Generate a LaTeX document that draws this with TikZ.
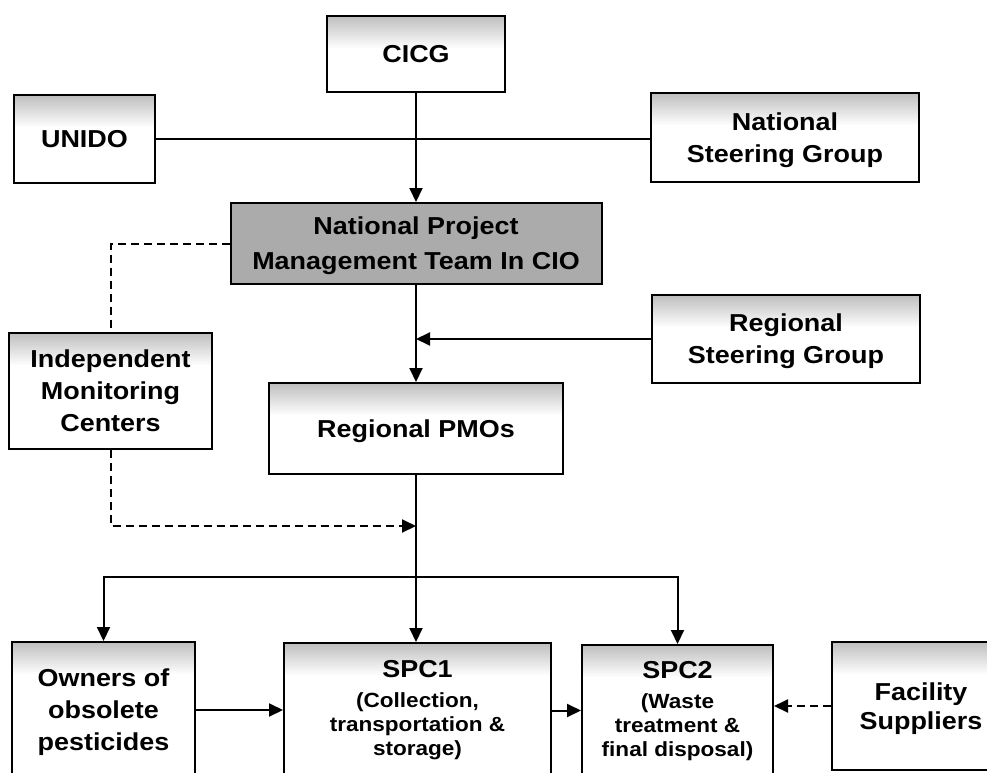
\documentclass[tikz,border=0pt]{standalone}
\usepackage{fontspec}
\setmainfont{Liberation Sans}[FakeStretch=1.1]
\usetikzlibrary{arrows.meta}

\newcommand{\subtxt}{\fontsize{20.5}{24}\selectfont}
\newcommand{\headtxt}{\fontsize{24.5}{32}\selectfont}

\tikzset{
  box/.style={draw, line width=2pt, align=center, inner sep=0pt,
    font=\bfseries\headtxt,
    path picture={\foreach \k in {1,...,16}
      {\fill[black, opacity=0.016]
        (path picture bounding box.north west) rectangle
        ([yshift=-2*\k pt]path picture bounding box.north east);}}},
  darkbox/.style={draw, line width=2pt, align=center, inner sep=0pt,
    font=\bfseries\headtxt, fill=black!33},
  subbox/.style={box, font=\bfseries\subtxt},
  link/.style={line width=2pt},
  tip/.style={-{Triangle[length=14pt,width=13pt]}},
  arr/.style={link, tip},
  dsh/.style={line width=2pt, dash pattern=on 8pt off 5pt}
}

\begin{document}
\begin{tikzpicture}[x=1pt,y=-1pt]
\clip (0,0) rectangle (987,773);
\fill[white] (0,0) rectangle (987,773);

% top level
\node[box, minimum width=178pt, minimum height=76pt, text depth=-6pt] (cicg) at (416,54) {CICG};
\node[box, minimum width=141pt, minimum height=88pt, text depth=-2pt] (unido) at (84.5,139) {UNIDO};
\node[box, minimum width=268pt, minimum height=89pt, text depth=-4pt] (nsg) at (785,137.5) {National\\Steering Group};

% national team and regional level
\node[darkbox, minimum width=371pt, minimum height=81pt, text depth=0pt] (npmt) at (416,243.5) {National Project\\[3pt]Management Team In CIO};
\node[box, minimum width=203pt, minimum height=116pt, text depth=0pt] (imc) at (110.5,391) {Independent\\Monitoring\\Centers};
\node[box, minimum width=268pt, minimum height=88pt, text depth=-4pt] (rsg) at (786,339) {Regional\\Steering Group};
\node[box, minimum width=294pt, minimum height=91pt, text depth=-4pt] (rpmo) at (416,428.5) {Regional PMOs};

% operational level
\node[box, minimum width=183pt, minimum height=136pt, text depth=0pt] (own) at (103.5,710) {Owners of\\obsolete\\pesticides};
\node[subbox, minimum width=267pt, minimum height=135pt] (spc1) at (417.5,710.5)
  {{\headtxt SPC1}\\[6pt](Collection,\\transportation \&\\storage)};
\node[subbox, minimum width=191pt, minimum height=133pt] (spc2) at (677.5,711.5)
  {{\headtxt SPC2}\\[6pt](Waste\\treatment \&\\final disposal)};
\node[box, minimum width=178pt, minimum height=128pt, text depth=0pt] (fac) at (921,706) {Facility\\[-3pt]Suppliers};

% helper points on the trunk line
\coordinate (merge) at (416,526);
\coordinate (bus) at (416,577);

% connectors
\draw[link] (unido.east) -- (unido.east -| nsg.west);
\draw[arr] (cicg.south) -- (npmt.north);
\draw[arr] (npmt.south) -- (rpmo.north);
\draw[arr] (rsg.west) -- (rsg.west -| rpmo.north);
\draw[dsh] (npmt.west) -| (imc.north);
\draw[dsh, tip] (imc.south) |- (merge);
\draw[line width=1.2pt] (rpmo.south) -- (bus);
\draw[arr] (bus) -- (bus |- spc1.north);
\draw[arr] (bus) -| (own.north);
\draw[arr] (bus) -| (spc2.north);
\draw[arr] (own.east) -- (own.east -| spc1.west);
\draw[arr] (spc1.east) -- (spc1.east -| spc2.west);
\draw[dsh, tip] (fac.west) -- (fac.west -| spc2.east);
\end{tikzpicture}
\end{document}
